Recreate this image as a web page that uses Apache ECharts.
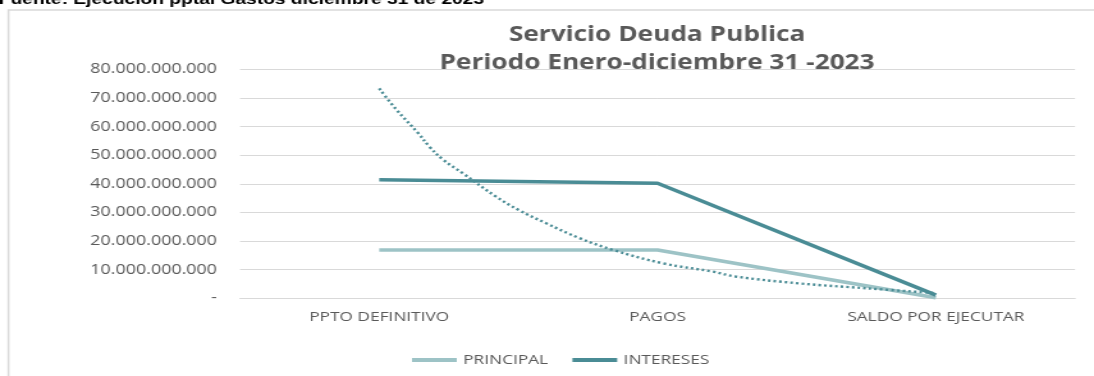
<!DOCTYPE html>
<html>
<head>
<meta charset="utf-8">
<script src="https://cdn.jsdelivr.net/npm/echarts@6/dist/echarts.min.js"></script>
<style>
  html, body { margin: 0; padding: 0; background: #fff; overflow: hidden; }
  #wrap { width: 1094px; height: 376px; overflow: hidden; position: relative; }
  /* the chart is laid out narrower and widened horizontally, like the exported sheet */
  #chart { width: 855px; height: 376px; transform: scaleX(1.27953); transform-origin: 0 0; }
</style>
</head>
<body>
<div id="wrap"><div id="chart"></div></div>
<script>
// Categories of the budget execution
const categories = ['PPTO DEFINITIVO', 'PAGOS', 'SALDO POR EJECUTAR'];

// Series values (pesos)
const principal = [16900000000, 16900000000, 200000000];
const intereses = [41400000000, 40200000000, 1100000000];

// Exponential trend line of INTERESES, sampled along the category positions (0 = first category)
const trendPos = [0, 0.06, 0.14, 0.18, 0.23, 0.3, 0.42, 0.5, 0.6, 0.72, 0.84, 1.02, 1.2, 1.28, 1.51, 1.75, 2.0];
const trendVal = [73300000000, 66100000000, 57700000000, 53000000000, 48400000000, 43700000000,
                  35500000000, 30900000000, 26200000000, 21000000000, 16900000000, 12200000000,
                  9300000000, 7600000000, 5200000000, 3500000000, 1800000000];

// Value axis ticks
const yTicks = [0, 10000000000, 20000000000, 30000000000, 40000000000, 50000000000, 60000000000, 70000000000, 80000000000];

const titleLines = ['Servicio Deuda Publica', 'Periodo Enero-diciembre 31 -2023'];
const sourceNote = 'Fuente: Ejecución pptal Gastos diciembre 31 de 2023';

const colPrincipal = '#9dc3c6';
const colIntereses = '#4a8c95';
const textGrey = '#595959';
const gridGrey = '#d9d9d9';

function thousands(v) {
  if (v === 0) return '-';
  const s = Math.round(v).toString();
  return s.replace(/\B(?=(\d{3})+(?!\d))/g, '.');
}

const chart = echarts.init(document.getElementById('chart'), null, { renderer: 'canvas' });

chart.setOption({
  backgroundColor: '#ffffff',
  animation: false,
  title: {
    text: titleLines.join('\n'),
    left: 513.5,
    top: 21,
    padding: 0,
    textAlign: 'center',
    textStyle: {
      fontFamily: '"Open Sans"',
      fontWeight: 'bold',
      fontSize: 20.5,
      lineHeight: 28,
      color: textGrey
    }
  },
  graphic: [
    {
      type: 'rect',
      z: 0,
      silent: true,
      shape: { x: 6.6, y: 10, width: 1200, height: 600 },
      style: { fill: 'none', stroke: gridGrey, lineWidth: 1.5 }
    },
    {
      type: 'text',
      z: 10,
      silent: true,
      x: -1,
      y: -0.5,
      style: {
        text: sourceNote,
        fontFamily: '"Liberation Sans"',
        fontWeight: 'bold',
        fontSize: 15,
        fill: '#000000',
        verticalAlign: 'middle'
      }
    }
  ],
  legend: {
    data: ['PRINCIPAL', 'INTERESES'],
    left: 322,
    top: 353,
    icon: 'rect',
    itemWidth: 35,
    itemHeight: 4,
    itemGap: 19,
    padding: 0,
    textStyle: { color: textGrey, fontFamily: '"Open Sans"', fontSize: 13.5 }
  },
  grid: { left: 187.6, right: 14.8, top: 69.3, bottom: 77.7 },
  xAxis: [
    {
      type: 'category',
      data: categories,
      boundaryGap: true,
      axisLine: { show: true, lineStyle: { color: gridGrey, width: 1 } },
      axisTick: { show: false },
      axisLabel: { color: textGrey, fontFamily: '"Open Sans"', fontSize: 13.5, margin: 12 }
    },
    {
      type: 'value',
      min: -0.5,
      max: 2.5,
      show: false
    }
  ],
  yAxis: {
    type: 'value',
    min: yTicks[0],
    max: yTicks[yTicks.length - 1],
    interval: yTicks[1] - yTicks[0],
    axisLine: { show: false },
    axisTick: { show: false },
    splitLine: { lineStyle: { color: gridGrey, width: 1 } },
    axisLabel: {
      color: textGrey,
      fontFamily: '"Open Sans"',
      fontSize: 14,
      margin: 18,
      formatter: thousands
    }
  },
  series: [
    {
      name: 'PRINCIPAL',
      type: 'line',
      data: principal,
      symbol: 'none',
      lineStyle: { color: colPrincipal, width: 3.5 },
      itemStyle: { color: colPrincipal },
      z: 3
    },
    {
      name: 'INTERESES',
      type: 'line',
      data: intereses,
      symbol: 'none',
      lineStyle: { color: colIntereses, width: 3.5 },
      itemStyle: { color: colIntereses },
      z: 3
    },
    {
      name: 'Exponencial (INTERESES)',
      type: 'line',
      xAxisIndex: 1,
      data: trendPos.map((p, i) => [p, trendVal[i]]),
      symbol: 'none',
      smooth: 0.4,
      lineStyle: { color: colIntereses, width: 2.4, type: [2, 2.4] },
      itemStyle: { color: colIntereses },
      z: 4
    }
  ]
});
</script>
</body>
</html>
